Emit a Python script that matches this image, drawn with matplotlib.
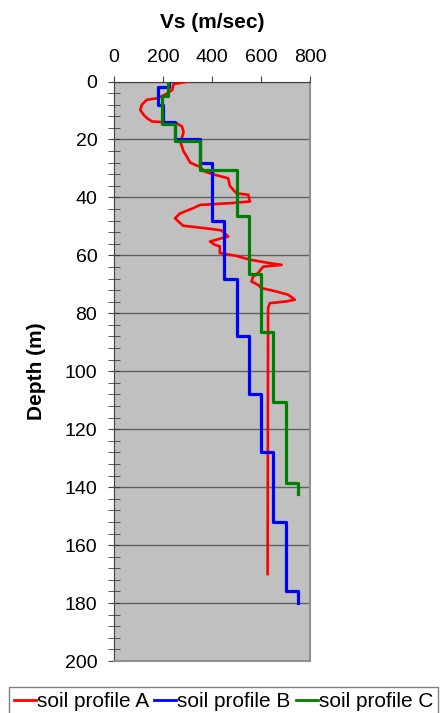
import numpy as np
import matplotlib
matplotlib.use("Agg")
import matplotlib.pyplot as plt
from matplotlib.ticker import MultipleLocator

plt.rcParams["font.family"] = ["Liberation Sans", "DejaVu Sans"]

# soil profile A: measured trace (Vs, depth)
A_VS = [303, 243, 238, 210, 175, 134, 114, 107, 121, 134, 155, 195, 256, 277,
        284, 277, 270, 277, 284, 297, 310, 331, 351, 371, 412, 466, 473, 487,
        500, 548, 555, 473, 351, 324, 270, 249, 270, 283, 338, 405, 439, 466,
        439, 419, 392, 412, 432, 432, 500, 555, 622, 684, 609, 588, 568, 561,
        588, 602, 664, 711, 738, 704, 636, 629, 627]
A_DEPTH = [0, 0.9, 2.9, 4.5, 5.8, 6.3, 8.0, 9.8, 11.5, 12.6, 13.8, 14.0, 14.4,
           15.5, 17.3, 19.6, 20.7, 22.4, 24.1, 25.9, 27.9, 28.8, 29.4, 31.1,
           32.2, 33.4, 36.0, 37.4, 38.6, 39.1, 41.4, 42.0, 42.6, 43.7, 45.5,
           47.2, 48.9, 49.8, 50.3, 51.0, 51.4, 53.5, 54.1, 54.6, 55.2, 56.4,
           56.9, 59.2, 60.2, 61.5, 62.5, 63.3, 63.9, 66.1, 67.3, 69.0, 70.2,
           71.3, 72.5, 73.6, 75.3, 75.9, 76.5, 78.2, 170]

# soil profiles B and C: layer bottoms and layer velocities
B_BOTTOM = [2, 8, 14, 20, 28, 48, 68, 88, 108, 128, 152, 176, 180]
B_VS = [225, 180, 200, 250, 350, 400, 450, 500, 550, 600, 650, 700, 750]
C_BOTTOM = [5, 14.5, 20.5, 30.5, 46.5, 66.5, 86.5, 110.5, 138.5, 142.5]
C_VS = [222, 197, 250, 350, 500, 550, 600, 650, 700, 750]

X_TICKS = [0, 200, 400, 600, 800]
Y_TICKS = list(range(0, 201, 20))


def staircase(bottoms, vs):
    tops = [0] + list(bottoms[:-1])
    x = np.repeat(vs, 2)
    y = np.column_stack([tops, bottoms]).ravel()
    return x, y


fig = plt.figure(figsize=(4.43, 7.13), dpi=100)
ax = fig.add_axes([114 / 443, 1 - 661 / 713, 196 / 443, (661 - 81.5) / 713])
ax.set_facecolor("#c0c0c0")

ax.plot(A_VS, A_DEPTH, color="red", lw=1.9, label="soil profile A", zorder=3)
bx, by = staircase(B_BOTTOM, B_VS)
ax.plot(bx, by, color="blue", lw=2.3, label="soil profile B", zorder=3)
cx, cy = staircase(C_BOTTOM, C_VS)
ax.plot(cx, cy, color="green", lw=2.3, label="soil profile C", zorder=4)

ax.set_xlim(0, 800)
ax.set_ylim(200, 0)
ax.set_xticks(X_TICKS)
ax.set_yticks(Y_TICKS)
ax.yaxis.set_minor_locator(MultipleLocator(4))
ax.xaxis.tick_top()
ax.xaxis.set_label_position("top")
ax.tick_params(axis="x", which="major", direction="out", length=4, pad=7,
               labelsize=14, color="#404040")
ax.tick_params(axis="y", which="major", direction="inout", length=8, pad=8,
               labelsize=14, color="#404040")
ax.tick_params(axis="y", which="minor", direction="inout", length=8,
               color="#404040")
ax.grid(axis="y", which="major", color="#606060", lw=1)
ax.set_axisbelow(True)

ax.set_xlabel("Vs (m/sec)", fontsize=15, fontweight="bold")
ax.xaxis.set_label_coords(0.5, 1 + 59.5 / 579.5)
ax.xaxis.label.set_va("center")
ax.set_ylabel("Depth (m)", fontsize=15, fontweight="bold")
ax.yaxis.set_label_coords(-77 / 196, 0.5)
ax.yaxis.label.set_va("center")

for side in ("left", "top"):
    ax.spines[side].set_color("#404040")
for side in ("right", "bottom"):
    ax.spines[side].set_color("#909090")
    ax.spines[side].set_linewidth(1.5)

leg = fig.legend(loc="lower left", bbox_to_anchor=(9 / 443, -3 / 713), ncol=3,
                 fontsize=15, handlelength=1.05, handletextpad=0.05,
                 columnspacing=0.25, borderpad=0.25, borderaxespad=0,
                 fancybox=False, edgecolor="#808080", framealpha=1)
for line in leg.get_lines():
    line.set_linewidth(2)

fig.savefig("out.png", dpi=100)
